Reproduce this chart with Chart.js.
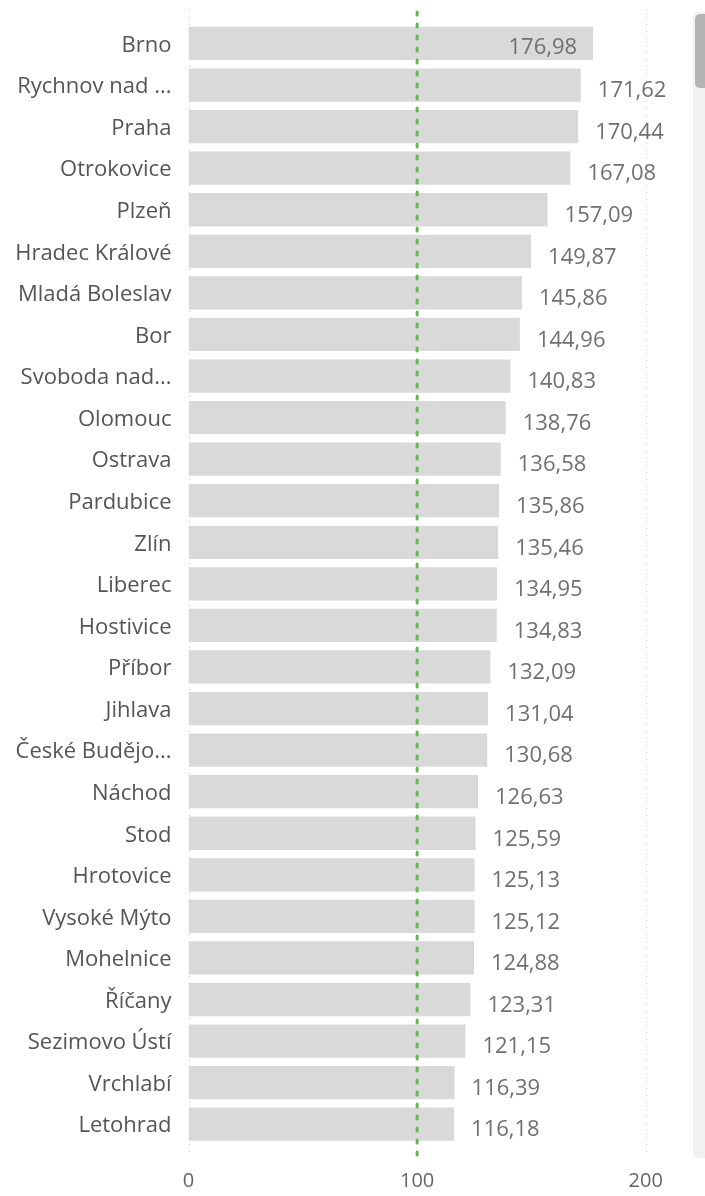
<!DOCTYPE html>
<html>
<head>
<meta charset="utf-8">
<script src="https://cdn.jsdelivr.net/npm/chart.js@4"></script>
<style>
  html, body { margin: 0; padding: 0; background: #fff; }
  #wrap { position: relative; width: 705px; height: 1196px; }
  #track { position: absolute; left: 693px; top: 12px; width: 12px; height: 1146px; background: #f1f1f1; border-radius: 5px 0 0 5px; }
  #thumb { position: absolute; left: 2px; top: 2px; width: 10px; height: 74px; background: #b4b4b4; border-radius: 5px 0 0 5px; }
</style>
</head>
<body>
<div id="wrap">
  <canvas id="chart" width="705" height="1196"></canvas>
  <div id="track"><div id="thumb"></div></div>
</div>
<script>
const cities = [
    'Brno', 'Rychnov nad ...', 'Praha', 'Otrokovice', 'Plzeň', 'Hradec Králové',
    'Mladá Boleslav', 'Bor', 'Svoboda nad...', 'Olomouc', 'Ostrava', 'Pardubice',
    'Zlín', 'Liberec', 'Hostivice', 'Příbor', 'Jihlava', 'České Budějo...',
    'Náchod', 'Stod', 'Hrotovice', 'Vysoké Mýto', 'Mohelnice', 'Říčany',
    'Sezimovo Ústí', 'Vrchlabí', 'Letohrad'
];
const values = [
    176.98, 171.62, 170.44, 167.08, 157.09, 149.87,
    145.86, 144.96, 140.83, 138.76, 136.58, 135.86,
    135.46, 134.95, 134.83, 132.09, 131.04, 130.68,
    126.63, 125.59, 125.13, 125.12, 124.88, 123.31,
    121.15, 116.39, 116.18
];
const targetValue = 100;
const xTicks = [0, 100, 200];

const fontFamily = '"Open Sans", "Noto Sans", sans-serif';
const lineTop = 10;
const lineBottom = 1158;

const fmt = (v) => v.toFixed(2).replace('.', ',');

// dotted grid lines + green target line + value labels
const linesPlugin = {
    id: 'lines',
    beforeDatasetsDraw(chart) {
        const c = chart.ctx;
        const x = chart.scales.x;
        c.save();
        c.strokeStyle = '#c8c8c8';
        c.lineWidth = 1;
        c.setLineDash([1, 6]);
        xTicks.forEach(t => {
            if (t === targetValue) return;
            const px = Math.round(x.getPixelForValue(t)) + 0.5;
            c.beginPath();
            c.moveTo(px, lineTop);
            c.lineTo(px, lineBottom);
            c.stroke();
        });
        c.restore();
    },
    afterDatasetsDraw(chart) {
        const c = chart.ctx;
        const x = chart.scales.x;
        const px = x.getPixelForValue(targetValue);
        c.save();
        c.strokeStyle = '#5fbb4c';
        c.lineWidth = 3;
        c.lineCap = 'round';
        c.setLineDash([3, 9]);
        c.beginPath();
        c.moveTo(px, lineTop + 2);
        c.lineTo(px, lineBottom);
        c.stroke();
        c.restore();

        c.save();
        c.font = '22px ' + fontFamily;
        c.fillStyle = '#707070';
        c.textBaseline = 'middle';
        const meta = chart.getDatasetMeta(0);
        const limit = chart.chartArea.right - 8;
        meta.data.forEach((bar, i) => {
            const txt = fmt(values[i]);
            const w = c.measureText(txt).width;
            if (bar.x + 17 + w > limit) {
                c.textAlign = 'right';
                c.fillText(txt, bar.x - 16, bar.y + 4);
            } else {
                c.textAlign = 'left';
                c.fillText(txt, bar.x + 17, bar.y + 6);
            }
        });
        c.restore();
    }
};

const ctx = document.getElementById('chart').getContext('2d');

new Chart(ctx, {
    type: 'bar',
    data: {
        labels: cities,
        datasets: [{
            data: values,
            backgroundColor: '#d9d9d9',
            borderWidth: 0,
            categoryPercentage: 0.8,
            barPercentage: 1
        }]
    },
    options: {
        indexAxis: 'y',
        responsive: false,
        animation: false,
        layout: { padding: { top: 22.7, right: 25, left: 0, bottom: 0 } },
        plugins: {
            legend: { display: false },
            tooltip: { enabled: false }
        },
        scales: {
            y: {
                grid: { display: false, drawTicks: false },
                border: { display: false },
                ticks: {
                    color: '#555',
                    padding: 17,
                    labelOffset: 2,
                    font: { family: fontFamily, size: 22 }
                },
                afterFit(scale) {
                    scale.width = 188.5;
                    scale.paddingTop = 0;
                    scale.paddingBottom = 0;
                }
            },
            x: {
                min: 0,
                max: 215,
                grid: { display: false, drawTicks: false },
                border: { display: false },
                afterBuildTicks(scale) { scale.ticks = xTicks.map(v => ({ value: v })); },
                ticks: {
                    color: '#666',
                    padding: 24,
                    font: { family: fontFamily, size: 20 }
                },
                afterFit(scale) {
                    scale.height = 51;
                    scale.paddingLeft = 0;
                    scale.paddingRight = 0;
                }
            }
        }
    },
    plugins: [linesPlugin]
});
</script>
</body>
</html>
